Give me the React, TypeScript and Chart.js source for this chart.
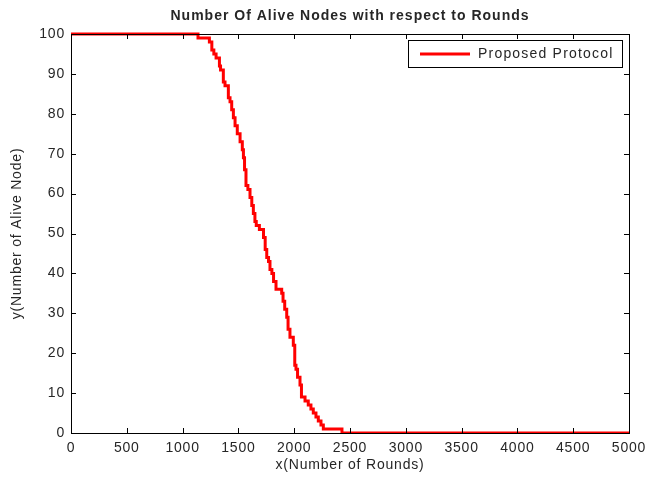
import React, { useEffect, useRef } from "react";
import { Chart, registerables } from "chart.js";

Chart.register(...registerables);

const rounds = [0, 1138, 1240, 1262, 1280, 1300, 1330, 1340, 1365, 1380, 1410, 1425, 1440, 1455, 1470, 1490, 1515, 1535, 1545, 1555, 1568, 1585, 1604, 1620, 1634, 1648, 1660, 1688, 1725, 1740, 1754, 1770, 1783, 1800, 1815, 1837, 1888, 1900, 1915, 1933, 1945, 1962, 1992, 2005, 2016, 2030, 2052, 2065, 2097, 2126, 2150, 2171, 2195, 2216, 2240, 2261, 2428, 5000];
const aliveNodes = [100, 99, 98, 96, 95, 94, 92, 91, 88, 87, 84, 83, 81, 79, 77, 75, 73, 71, 69, 66, 62, 61, 59, 57, 55, 53, 52, 51, 49, 46, 44, 43, 41, 40, 38, 36, 35, 33, 31, 29, 26, 24, 22, 17, 16, 14, 12, 9, 8, 7, 6, 5, 4, 3, 2, 1, 0, 0];

const chartTitle = "Number Of Alive Nodes with respect to Rounds";
const xTitle = "x(Number of Rounds)";
const yTitle = "y(Number of Alive Node)";
const seriesName = "Proposed Protocol";

const FONT = "'Liberation Sans', Arial, sans-serif";
const TEXT = "#262626";
const SPACING = "0.8px";

const spacingPlugin = {
  id: "spacing",
  beforeLayout(chart: any) {
    (chart.ctx as any).letterSpacing = SPACING;
  },
  beforeDraw(chart: any) {
    (chart.ctx as any).letterSpacing = SPACING;
  },
};

const framePlugin = {
  id: "frame",
  afterDraw(chart: any) {
    const { ctx, chartArea: a, scales } = chart;
    ctx.save();
    ctx.strokeStyle = "#000";
    ctx.lineWidth = 1;
    ctx.strokeRect(a.left + 0.5, a.top + 0.5, a.right - a.left, a.bottom - a.top);
    const tl = 5;
    ctx.beginPath();
    scales.x.ticks.forEach((t: any) => {
      const px = Math.round(scales.x.getPixelForValue(t.value)) + 0.5;
      ctx.moveTo(px, a.bottom);
      ctx.lineTo(px, a.bottom - tl);
      ctx.moveTo(px, a.top);
      ctx.lineTo(px, a.top + tl);
    });
    scales.y.ticks.forEach((t: any) => {
      const py = Math.round(scales.y.getPixelForValue(t.value)) + 0.5;
      ctx.moveTo(a.left, py);
      ctx.lineTo(a.left + tl, py);
      ctx.moveTo(a.right, py);
      ctx.lineTo(a.right - tl, py);
    });
    ctx.stroke();

    // title
    ctx.fillStyle = TEXT;
    ctx.font = `bold 14px ${FONT}`;
    ctx.textAlign = "center";
    ctx.textBaseline = "middle";
    (ctx as any).letterSpacing = "1px";
    ctx.fillText(chartTitle, (a.left + a.right) / 2, 16);

    // legend
    const bw = 214, bh = 27;
    const bx = a.right - 7 - bw;
    const by = a.top + 6;
    ctx.fillStyle = "#fff";
    ctx.fillRect(bx, by, bw, bh);
    ctx.strokeStyle = "#000";
    ctx.lineWidth = 1;
    ctx.strokeRect(bx + 0.5, by + 0.5, bw, bh);
    ctx.strokeStyle = "#ff0000";
    ctx.lineWidth = 3;
    ctx.beginPath();
    ctx.moveTo(bx + 12, by + bh / 2 + 0.5);
    ctx.lineTo(bx + 62, by + bh / 2 + 0.5);
    ctx.stroke();
    ctx.fillStyle = TEXT;
    ctx.font = `14px ${FONT}`;
    ctx.textAlign = "left";
    (ctx as any).letterSpacing = "1.2px";
    ctx.fillText(seriesName, bx + 70, by + bh / 2 + 1);
    ctx.restore();
  },
};

export default function App() {
  const ref = useRef<HTMLCanvasElement>(null);
  useEffect(() => {
    document.body.style.margin = "0";
    const data = rounds.map((r, i) => ({ x: r, y: aliveNodes[i] }));
    const chart = new Chart(ref.current!, {
      type: "line",
      data: {
        datasets: [
          {
            label: seriesName,
            data,
            borderColor: "#ff0000",
            backgroundColor: "#ff0000",
            borderWidth: 3,
            pointRadius: 0,
            stepped: true,
            fill: false,
            clip: { left: 0, right: 0, top: 4, bottom: 1 } as any,
          },
        ],
      },
      options: {
        animation: false,
        responsive: false,
        maintainAspectRatio: false,
        layout: { padding: { left: 0, right: 18, top: 34, bottom: 0 } },
        plugins: {
          legend: { display: false },
          title: { display: false },
          tooltip: { enabled: false },
        },
        scales: {
          x: {
            type: "linear",
            min: 0,
            max: 5000,
            grid: { display: false, drawTicks: false },
            border: { display: false },
            ticks: {
              stepSize: 500,
              padding: 7,
              color: TEXT,
              font: { family: FONT, size: 14 },
              maxRotation: 0,
              callback: (v: any) => String(v),
            },
            title: { display: true, text: xTitle, color: TEXT, font: { family: FONT, size: 14 }, padding: { top: 0, bottom: 3 } },
            afterFit: (s: any) => {
              s.height = 44;
              s.paddingLeft = 0;
              s.paddingRight = 0;
            },
          },
          y: {
            min: 0,
            max: 100,
            grid: { display: false, drawTicks: false },
            border: { display: false },
            ticks: {
              stepSize: 10,
              padding: 6,
              color: TEXT,
              font: { family: FONT, size: 14 },
              callback: (v: any) => String(v),
            },
            title: { display: true, text: yTitle, color: TEXT, font: { family: FONT, size: 14 }, padding: { top: 9, bottom: 0 } },
            afterFit: (s: any) => {
              s.width = 71;
              s.paddingTop = 0;
              s.paddingBottom = 0;
            },
          },
        },
      },
      plugins: [spacingPlugin, framePlugin],
    });
    return () => chart.destroy();
  }, []);
  return (
    <div style={{ width: 647, height: 477 }}>
      <canvas ref={ref} width={647} height={477} />
    </div>
  );
}
